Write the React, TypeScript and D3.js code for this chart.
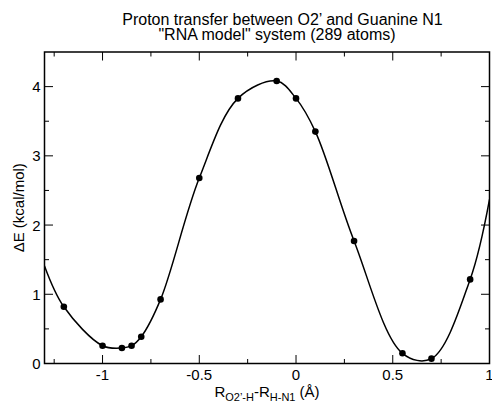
import React from "react";
import * as d3 from "d3";

const xValues = [-1.2, -1.0, -0.9, -0.85, -0.8, -0.7, -0.5, -0.3, -0.1, 0.0, 0.1, 0.3, 0.55, 0.7, 0.9];
const yValues = [0.82, 0.257, 0.224, 0.257, 0.387, 0.926, 2.68, 3.83, 4.08, 3.83, 3.35, 1.77, 0.147, 0.07, 1.215];
// fitted curve values at the plot edges
const curveEdgeX = [-1.3, 1.0];
const curveEdgeY = [1.41, 2.37];

const xMajorTicks = [-1, -0.5, 0, 0.5, 1];
const xMinorTicks = [-1.25, -0.75, -0.25, 0.25, 0.75];
const yMajorTicks = [0, 1, 2, 3, 4];
const yMinorTicks = [0.5, 1.5, 2.5, 3.5];
const xTickLabels = ["-1", "-0.5", "0", "0.5", "1"];
const yTickLabels = ["0", "1", "2", "3", "4"];

const titleLines = ["Proton transfer between O2\u2019 and Guanine N1", "\"RNA model\" system (289 atoms)"];

const W = 492;
const H = 406;
const left = 44.5;
const right = 489.5;
const top = 52;
const bottom = 363.5;
const FONT = "'Liberation Sans', Arial, Helvetica, sans-serif";

export default function App() {
  const x = d3.scaleLinear().domain([-1.3, 1]).range([left, right]);
  const y = d3.scaleLinear().domain([0, 4.5]).range([bottom, top]);

  const pts: [number, number][] = xValues.map((v, i) => [v, yValues[i]]);
  const knots: [number, number][] = [
    [curveEdgeX[0], curveEdgeY[0]],
    ...pts,
    [curveEdgeX[1], curveEdgeY[1]],
  ];
  const line = d3
    .line<[number, number]>()
    .x((d) => x(d[0]))
    .y((d) => y(d[1]))
    .curve(d3.curveCatmullRom.alpha(0.5));

  const major = 8.5;
  const minor = 4.5;

  return (
    <svg
      width={W}
      height={H}
      style={{ position: "absolute", left: 0, top: 0, background: "#fff" }}
      fontFamily={FONT}
    >
      <rect x={0} y={0} width={W} height={H} fill="#fff" />
      <defs>
        <clipPath id="plotclip">
          <rect x={left} y={top} width={right - left} height={bottom - top} />
        </clipPath>
      </defs>
      <text x={282.5} y={25} textAnchor="middle" fontSize={16}>{titleLines[0]}</text>
      <text x={277} y={39.5} textAnchor="middle" fontSize={16}>{titleLines[1]}</text>

      <path d={line(knots) || ""} fill="none" stroke="#000" strokeWidth={1.5} clipPath="url(#plotclip)" />
      {pts.map((d, i) => (
        <circle key={i} cx={x(d[0])} cy={y(d[1])} r={3.3} fill="#000" />
      ))}

      {xMajorTicks.map((t, i) => (
        <g key={"xM" + i}>
          <line x1={x(t)} x2={x(t)} y1={bottom} y2={bottom - major} stroke="#000" strokeWidth={1} />
          <line x1={x(t)} x2={x(t)} y1={top} y2={top + major} stroke="#000" strokeWidth={1} />
          <text x={x(t)} y={bottom + 16} textAnchor="middle" fontSize={15}>{xTickLabels[i]}</text>
        </g>
      ))}
      {xMinorTicks.map((t, i) => (
        <g key={"xm" + i}>
          <line x1={x(t)} x2={x(t)} y1={bottom} y2={bottom - minor} stroke="#000" strokeWidth={1} />
          <line x1={x(t)} x2={x(t)} y1={top} y2={top + minor} stroke="#000" strokeWidth={1} />
        </g>
      ))}
      {yMajorTicks.map((t, i) => (
        <g key={"yM" + i}>
          <line x1={left} x2={left + major} y1={y(t)} y2={y(t)} stroke="#000" strokeWidth={1} />
          <line x1={right} x2={right - major} y1={y(t)} y2={y(t)} stroke="#000" strokeWidth={1} />
          <text x={left - 4} y={y(t) + 5.5} textAnchor="end" fontSize={15}>{yTickLabels[i]}</text>
        </g>
      ))}
      {yMinorTicks.map((t, i) => (
        <g key={"ym" + i}>
          <line x1={left} x2={left + minor} y1={y(t)} y2={y(t)} stroke="#000" strokeWidth={1} />
          <line x1={right} x2={right - minor} y1={y(t)} y2={y(t)} stroke="#000" strokeWidth={1} />
        </g>
      ))}
      <rect x={left} y={top} width={right - left} height={bottom - top} fill="none" stroke="#000" strokeWidth={1.5} />

      <text x={(left + right) / 2} y={397} textAnchor="middle" fontSize={15}>
        <tspan>R</tspan>
        <tspan fontSize={11} dy={4}>{"O2\u2019-H"}</tspan>
        <tspan dy={-4}>-R</tspan>
        <tspan fontSize={11} dy={4}>H-N1</tspan>
        <tspan dy={-4}>{" (\u00C5)"}</tspan>
      </text>
      <text
        transform={`translate(24,${(top + bottom) / 2}) rotate(-90)`}
        textAnchor="middle"
        fontSize={15}
      >
        {"\u0394E (kcal/mol)"}
      </text>
    </svg>
  );
}
